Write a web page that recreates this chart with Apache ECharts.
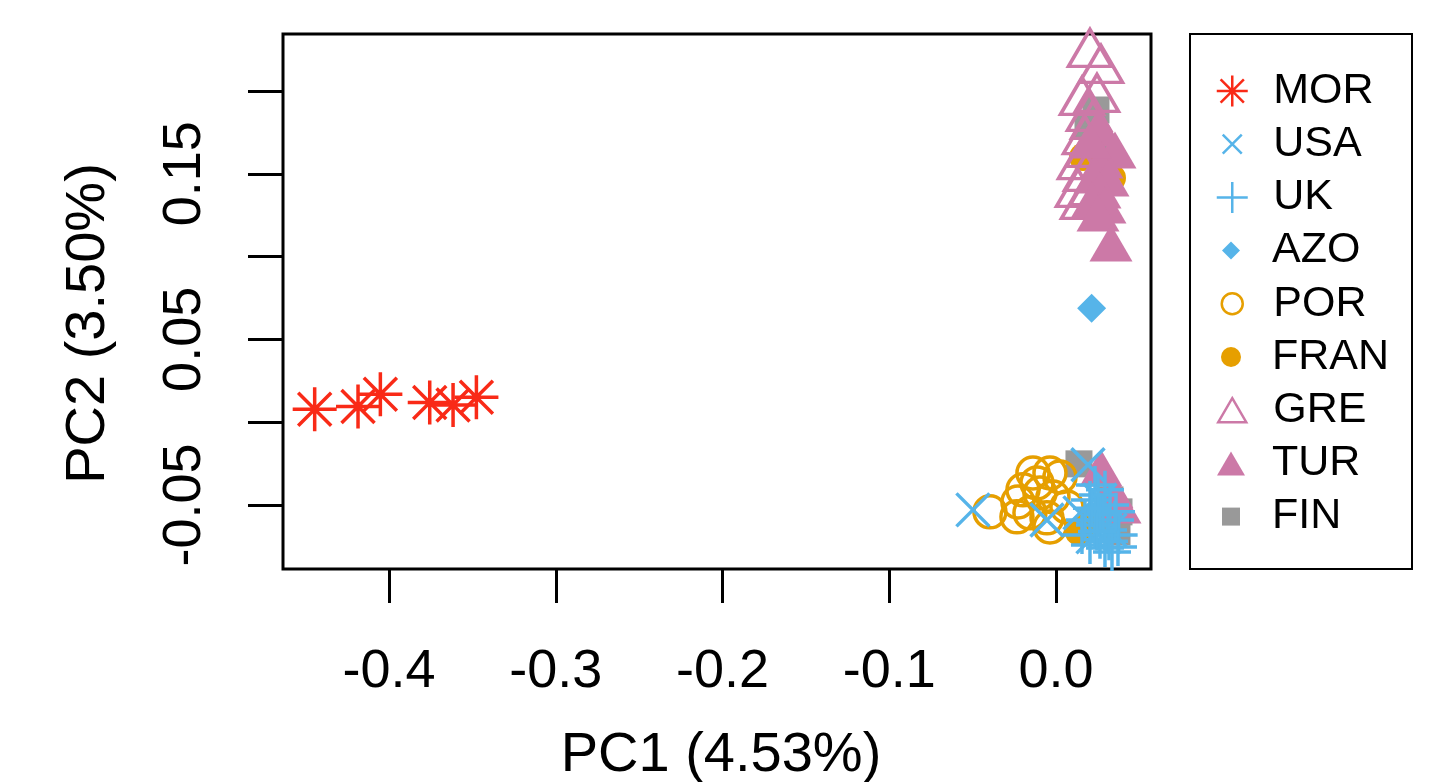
<!DOCTYPE html>
<html><head><meta charset="utf-8">
<script src="https://cdn.jsdelivr.net/npm/echarts@6/dist/echarts.min.js"></script>
<style>html,body{margin:0;padding:0;background:#fff}#c{width:1451px;height:782px}</style>
</head><body><div id="c"></div>
<script>
// ---- data (PC1, PC2) per population ----
const MOR = [[-0.4446,0.0078],[-0.4186,0.0094],[-0.4052,0.0168],[-0.3756,0.0118],[-0.3616,0.0104],[-0.3476,0.0150]];
const USA = [[-0.0498,-0.0530],[-0.0054,-0.0591],[0.0192,-0.0258],[0.0264,-0.0470],[0.0324,-0.0651],[0.0222,-0.0693],[0.0144,-0.0548]];
const UK = [[0.0234,-0.0379],[0.0294,-0.0409],[0.0204,-0.0470],[0.0324,-0.0500],[0.0264,-0.0542],[0.0174,-0.0591],[0.0354,-0.0591],[0.0234,-0.0621],[0.0312,-0.0651],[0.0376,-0.0681],[0.0264,-0.0711],[0.0204,-0.0742],[0.0372,-0.0754],[0.0336,-0.0784],[0.0252,-0.0440],[0.0294,-0.0760],[0.0156,-0.0681],[0.0360,-0.0542],[0.0282,-0.0560],[0.0216,-0.0520],[0.0318,-0.0720],[0.0246,-0.0660]];
const AZO = [[0.0214,0.0688]];
const POR = [[-0.0396,-0.0542],[-0.0228,-0.0482],[-0.0198,-0.0409],[-0.0114,-0.0367],[-0.0036,-0.0307],[-0.0096,-0.0428],[-0.0156,-0.0548],[-0.0054,-0.0578],[-0.0018,-0.0452],[0.0024,-0.0331],[-0.0234,-0.0572],[0.0066,-0.0512],[-0.0036,-0.0633],[-0.0138,-0.0307]];
const FRAN = [[0.0162,0.1601],[0.0336,0.1475],[0.0138,-0.0663],[0.0204,-0.0591]];
const GRE = [[0.0204,0.2260],[0.0270,0.2163],[0.0156,0.1970],[0.0246,0.1988],[0.0198,0.1873],[0.0222,0.1825],[0.0174,0.1734],[0.0192,0.1656],[0.0144,0.1583],[0.0180,0.1511],[0.0132,0.1414],[0.0162,0.1342],[0.0216,0.1426]];
const TUR = [[0.0252,0.1777],[0.0354,0.1644],[0.0276,0.1583],[0.0234,0.1493],[0.0312,0.1475],[0.0264,0.1402],[0.0216,0.1342],[0.0294,0.1312],[0.0252,0.1263],[0.0330,0.1082],[0.0204,0.1704],[0.0270,-0.0277],[0.0384,-0.0500],[0.0336,-0.0409]];
const FIN = [[0.0240,0.1885],[0.0192,0.1795],[0.0234,0.1704],[0.0138,-0.0252],[0.0378,-0.0542],[0.0366,-0.0663],[0.0324,-0.0470]];

const legendOrder = ['MOR','USA','UK','AZO','POR','FRAN','GRE','TUR','FIN'];
const xTicks = [-0.4,-0.3,-0.2,-0.1,0.0];
const yTicks = [-0.05,0,0.05,0.1,0.15,0.2];
const yLabels = [-0.05,0.05,0.15];
const xName = 'PC1 (4.53%)';
const yName = 'PC2 (3.50%)';

// ---- styling ----
const F = 'Liberation Sans, Arial, Helvetica, sans-serif';
const RED = '#F92A17', BLUE = '#56B4E9', ORANGE = '#E69F00', PINK = '#CC79A7', GRAY = '#999999';
const AST = 'path://M0,-10L0,10M-10,0L10,0M-7.5,-7.5L7.5,7.5M-7.5,7.5L7.5,-7.5';
const CROSS = 'path://M-10,-10L10,10M-10,10L10,-10';
const PLUS = 'path://M0,-10L0,10M-10,0L10,0';

function sc(name, data, symbol, size, color, filled) {
  return {
    type: 'scatter', name, data, symbol, symbolSize: size, clip: false,
    silent: true, animation: false, emphasis: {disabled: true},
    itemStyle: filled ? {color: color, opacity: 1, borderWidth: 0}
                      : {color: 'transparent', borderColor: color, borderWidth: 3.5, opacity: 1}
  };
}

const series = [
  sc('FIN', FIN, 'rect', 27, GRAY, true),
  sc('FRAN', FRAN, 'circle', 28, ORANGE, true),
  sc('POR', POR, 'circle', 32, ORANGE, false),
  sc('GRE', GRE, 'triangle', [43,37], PINK, false),
  sc('TUR', TUR, 'triangle', [43,37], PINK, true),
  sc('USA', USA, CROSS, 33, BLUE, false),
  sc('UK', UK, PLUS, 38, BLUE, false),
  sc('AZO', AZO, 'diamond', 29, BLUE, true),
  sc('MOR', MOR, AST, 44, RED, false)
];

const legSpec = {
  MOR: {w:31, h:31}, USA: {w:19, h:19}, UK: {w:31, h:31}, AZO: {w:18, h:18},
  POR: {w:21, h:21}, FRAN: {w:20, h:20}, GRE: {w:28, h:24}, TUR: {w:28, h:24}, FIN: {w:18, h:18}
};
const legTop0 = 91, legStep = 53.2, legIconX = 1231, legTextX = 1272;
const legends = legendOrder.map((n, i) => {
  const s = legSpec[n];
  const cy = legTop0 + i * legStep;
  return {
    data: [{name: n}], orient: 'vertical', selectedMode: false,
    left: legIconX - s.w / 2, top: cy - 25, padding: 0, itemGap: 0,
    itemWidth: s.w, itemHeight: s.h,
    itemStyle: {borderWidth: 2.5},
    textStyle: {fontSize: 43, fontFamily: F, color: '#000', lineHeight: 50,
                padding: [0, 0, 0, legTextX - 5 - (legIconX + s.w / 2)]}
  };
});

const chart = echarts.init(document.getElementById('c'), null, {renderer: 'canvas'});
chart.setOption({
  backgroundColor: '#fff',
  animation: false,
  grid: {left: 283, top: 34, width: 868, height: 535, show: true, borderColor: '#000', borderWidth: 3,
         backgroundColor: 'transparent', containLabel: false, outerBoundsMode: 'none'},
  xAxis: {
    type: 'value', min: -0.4636, max: 0.057,
    splitLine: {show: false}, axisLine: {show: false, onZero: false},
    axisTick: {show: true, inside: false, length: 34, customValues: xTicks, lineStyle: {color: '#000', width: 3}},
    axisLabel: {customValues: xTicks, formatter: v => Number(v).toFixed(1), fontSize: 54, fontFamily: F,
                color: '#000', margin: 103, verticalAlign: 'middle', align: 'center'},
    name: xName, nameLocation: 'middle', nameGap: 187,
    nameTextStyle: {fontSize: 56, fontFamily: F, color: '#000', verticalAlign: 'middle', align: 'center',
                    padding: [0, 0, 0, 8]}
  },
  yAxis: {
    type: 'value', min: -0.0887, max: 0.2344,
    splitLine: {show: false}, axisLine: {show: false, onZero: false},
    axisTick: {show: true, inside: false, length: 35, customValues: yTicks, lineStyle: {color: '#000', width: 3}},
    axisLabel: {customValues: yLabels, formatter: v => Number(v).toFixed(2), fontSize: 54, fontFamily: F,
                color: '#000', rotate: 90, margin: 98, verticalAlign: 'middle', align: 'center'},
    name: yName, nameLocation: 'middle', nameGap: 194,
    nameTextStyle: {fontSize: 56, fontFamily: F, color: '#000', verticalAlign: 'middle', align: 'center',
                    padding: [0, 44, 0, 0]}
  },
  legend: legends,
  graphic: [{type: 'rect', silent: true, shape: {x: 1190, y: 34, width: 222, height: 535},
             style: {fill: 'none', stroke: '#000', lineWidth: 2}}],
  series: series
});
</script>
</body></html>
